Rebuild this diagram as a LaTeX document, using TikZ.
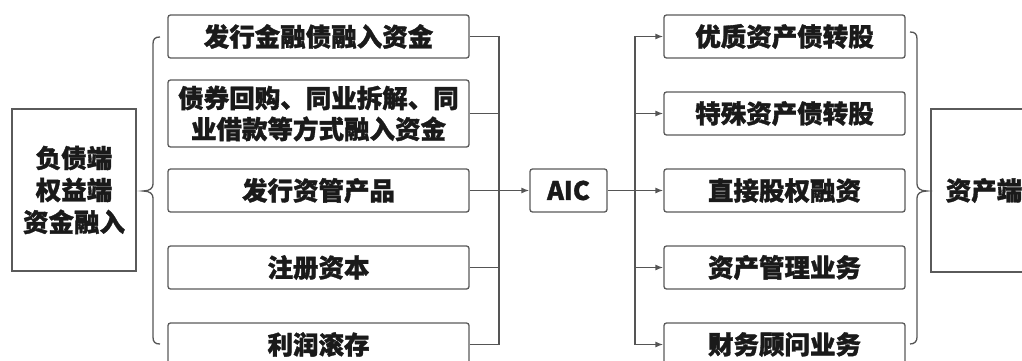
\documentclass[tikz,border=0pt]{standalone}
\usepackage{fontspec}
\setmainfont{Noto Sans CJK SC}[BoldFeatures={FakeBold=1.3}]
\usetikzlibrary{arrows.meta}
\definecolor{ln}{HTML}{555555}
\definecolor{bx}{HTML}{5A5A5A}
\definecolor{tx}{HTML}{1A1A1A}
\tikzset{
  item/.style={draw=bx, line width=1.3pt, rounded corners=2.5pt, fill=white,
    text=tx, font=\bfseries\fontsize{25.5}{31}\selectfont, align=center, inner sep=0pt},
  side/.style={draw=bx, line width=1.3pt, fill=white,
    text=tx, font=\bfseries\fontsize{25.5}{32}\selectfont, align=center, inner sep=0pt},
  conn/.style={draw=ln, line width=1.3pt},
  arr/.style={conn, -{Latex[length=8pt,width=6pt]}},
}
\begin{document}
\begin{tikzpicture}[x=1pt,y=-1pt]
\useasboundingbox (0,0) rectangle (1022,361);
% left side box
\node[side, minimum width=124pt, minimum height=162pt] (src) at (74,190) {负债端\\权益端\\资金融入};
% left items
\node[item, minimum width=301pt, minimum height=43pt] (l1) at (318.5,36.5) {发行金融债融入资金};
\node[item, minimum width=301pt, minimum height=67pt] (l2) at (318.5,113.5) {债券回购、同业拆解、同\\业借款等方式融入资金};
\node[item, minimum width=301pt, minimum height=43pt] (l3) at (318.5,190.5) {发行资管产品};
\node[item, minimum width=301pt, minimum height=43pt] (l4) at (318.5,267.5) {注册资本};
\node[item, minimum width=301pt, minimum height=43pt] (l5) at (318.5,344.5) {利润滚存};
% AIC
\node[item, minimum width=77pt, minimum height=43pt] (aic) at (568.5,190.5) {AIC};
% right items
\node[item, minimum width=241pt, minimum height=43pt] (r1) at (784.5,36.5) {优质资产债转股};
\node[item, minimum width=241pt, minimum height=43pt] (r2) at (784.5,113.5) {特殊资产债转股};
\node[item, minimum width=241pt, minimum height=43pt] (r3) at (784.5,190.5) {直接股权融资};
\node[item, minimum width=241pt, minimum height=43pt] (r4) at (784.5,267.5) {资产管理业务};
\node[item, minimum width=241pt, minimum height=43pt] (r5) at (784.5,344.5) {财务顾问业务};
% right side box
\node[side, minimum width=106pt, minimum height=163pt, text width=106pt] (dst) at (984,190.5) {资产端};
% left brace
\draw[conn] (160,37) .. controls (155,37) and (153,39) .. (153,44) -- (153,184)
  .. controls (153,188) and (150,191) .. (143,191)
  .. controls (150,191) and (153,194) .. (153,198) -- (153,337)
  .. controls (153,342) and (155,344) .. (160,344);
% right brace
\draw[conn] (910,32) .. controls (915,32) and (917,34) .. (917,39) -- (917,184)
  .. controls (917,188) and (920,191) .. (927,191)
  .. controls (920,191) and (917,194) .. (917,198) -- (917,337)
  .. controls (917,341) and (915,344) .. (910,344);
% left bus
\coordinate (lbus) at (499,190.5);
\draw[conn] (l1.east) -| (lbus);
\draw[conn] (l2.east) -| (lbus);
\draw[conn] (l3.east) -- (lbus);
\draw[conn] (l4.east) -| (lbus);
\draw[conn] (l5.east) -| (lbus);
\draw[arr] (lbus) -- (aic.west);
% right bus
\coordinate (rbus) at (635,190.5);
\draw[conn] (aic.east) -- (rbus);
\draw[arr] (rbus) |- (r1.west);
\draw[arr] (rbus) |- (r2.west);
\draw[arr] (rbus) -- (r3.west);
\draw[arr] (rbus) |- (r4.west);
\draw[arr] (rbus) |- (r5.west);
\end{tikzpicture}
\end{document}
